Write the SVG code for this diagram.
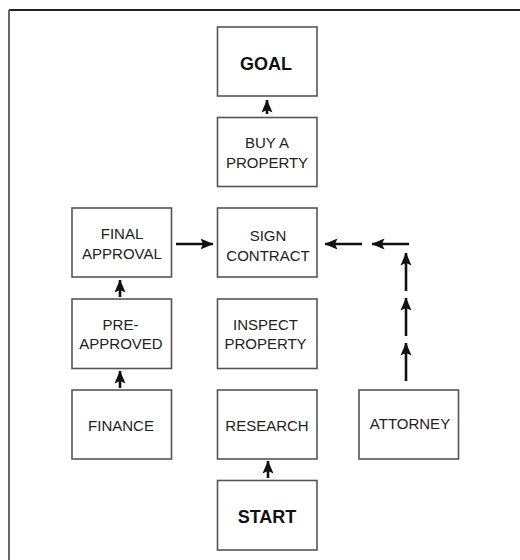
<svg xmlns="http://www.w3.org/2000/svg" width="520" height="560" viewBox="0 0 520 560">
<defs>
<marker id="ah" markerUnits="userSpaceOnUse" markerWidth="13" markerHeight="12" viewBox="0 0 13 12" refX="12.5" refY="6" orient="auto">
<path d="M0,0.5 L13,6 L0,11.5 L2.5,6 Z" fill="#111"/>
</marker>
<style>
.box{fill:#fff;stroke:#555;stroke-width:1.6}
.t{font-family:"Liberation Sans",Arial,sans-serif;font-size:15px;fill:#222;text-anchor:middle}
.b{font-family:"Liberation Sans",Arial,sans-serif;font-size:18px;font-weight:bold;fill:#111;text-anchor:middle}
.c{stroke:#111;stroke-width:2.6;fill:none;marker-end:url(#ah)}
</style>
</defs>
<rect width="520" height="560" fill="#fff"/>
<line x1="9" y1="10" x2="520" y2="10" stroke="#222" stroke-width="2.2"/>
<line x1="9" y1="10" x2="9" y2="560" stroke="#666" stroke-width="2"/>

<g id="goal"><rect class="box" x="217.5" y="27" width="99.5" height="69"/><text class="b" x="266" y="70">GOAL</text></g>
<g id="buy"><rect class="box" x="217.5" y="117.5" width="99.5" height="69"/><text class="t" x="267" y="148">BUY A</text><text class="t" x="267" y="168">PROPERTY</text></g>
<g id="final"><rect class="box" x="72" y="208" width="99.5" height="69"/><text class="t" x="122" y="239">FINAL</text><text class="t" x="122" y="259">APPROVAL</text></g>
<g id="sign"><rect class="box" x="217.5" y="208" width="99.5" height="69"/><text class="t" x="268" y="241">SIGN</text><text class="t" x="268" y="261">CONTRACT</text></g>
<g id="pre"><rect class="box" x="72" y="299" width="99.5" height="69.5"/><text class="t" x="120.5" y="330">PRE-</text><text class="t" x="121" y="349">APPROVED</text></g>
<g id="inspect"><rect class="box" x="217.5" y="299" width="99.5" height="69.5"/><text class="t" x="265.5" y="330">INSPECT</text><text class="t" x="265.5" y="349">PROPERTY</text></g>
<g id="finance"><rect class="box" x="72" y="390" width="99.5" height="69"/><text class="t" x="121" y="431">FINANCE</text></g>
<g id="research"><rect class="box" x="217.5" y="390" width="99.5" height="69"/><text class="t" x="267" y="431">RESEARCH</text></g>
<g id="attorney"><rect class="box" x="359" y="390" width="99.5" height="69"/><text class="t" x="410" y="429">ATTORNEY</text></g>
<g id="start"><rect class="box" x="217.5" y="480.5" width="99.5" height="69.5"/><text class="b" x="267" y="523">START</text></g>

<g id="connectors">
<line class="c" x1="267" y1="114" x2="267" y2="100"/>
<line class="c" x1="176" y1="244" x2="213" y2="244"/>
<line class="c" x1="362" y1="244" x2="325" y2="244"/>
<line class="c" x1="409" y1="244" x2="372" y2="244"/>
<line class="c" x1="406" y1="291" x2="406" y2="253"/>
<line class="c" x1="406" y1="336" x2="406" y2="298"/>
<line class="c" x1="406" y1="381" x2="406" y2="343"/>
<line class="c" x1="120" y1="297" x2="120" y2="280"/>
<line class="c" x1="120" y1="388" x2="120" y2="371"/>
<line class="c" x1="268" y1="478" x2="268" y2="461"/>
</g>
</svg>
